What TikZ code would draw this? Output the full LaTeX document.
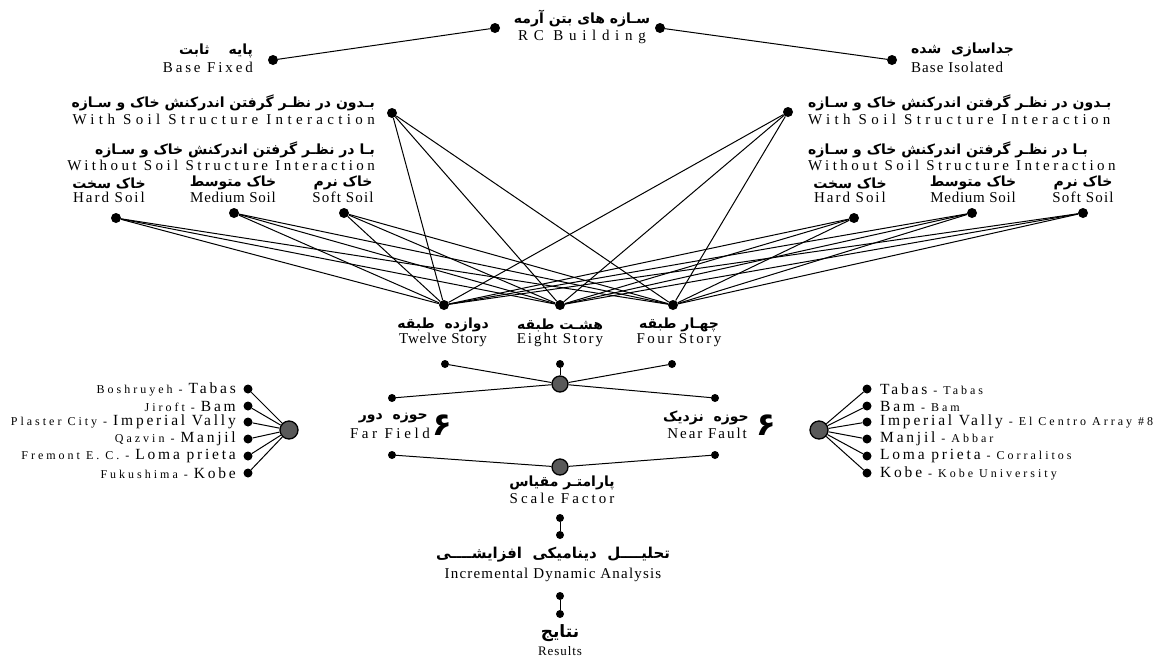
\documentclass[tikz,border=0pt]{standalone}
\usepackage{fontspec}
\setmainfont{Liberation Serif}
\newfontfamily\fafont[Script=Arabic]{DejaVu Sans}
\TeXXeTstate=1
\newcommand{\fa}[1]{{\fafont\bfseries\beginR #1\endR}}
\newcommand{\spaced}[2]{{\addfontfeature{LetterSpace=#1}#2}}
\newcommand{\eqk}[3]{{\fontsize{12}{12}\selectfont\spaced{25}{#1}}\spaced{18}{#2}{\fontsize{12}{12}\selectfont\spaced{25}{#3}}}
\tikzset{
  dot/.style={circle,fill=black,inner sep=0pt,minimum size=10pt},
  smalldot/.style={dot,minimum size=8pt},
  hub/.style={circle,draw=black,line width=1.3pt,fill=black!65,inner sep=0pt,minimum size=16pt},
  link/.style={line width=1pt},
  entext/.style={inner sep=0pt,font=\fontsize{15}{16}\selectfont},
  fatext/.style={inner sep=0pt,font=\fontsize{14}{15}\selectfont},
  eqtext/.style={inner sep=0pt,font=\fontsize{15.5}{16}\selectfont},
  sixtext/.style={inner sep=0pt,font=\fontsize{32}{34}\selectfont},
}
\begin{document}
\begin{tikzpicture}[x=1pt,y=-1pt]
\useasboundingbox (0,0) rectangle (1165,657);
\node[dot] (rcL) at (495,28) {};
\node[dot] (rcR) at (660,28) {};
\node[fatext] (rcfa) at (582,19) {\fa{سـازه های بتن آرمه}};
\node[entext] (rcen) at (582,37) {\spaced{38}{RC Building}};
\node[dot] (fix) at (273,60) {};
\node[dot] (iso) at (892,60) {};
\draw[link] (rcL) -- (fix);
\draw[link] (rcR) -- (iso);
\node[fatext,anchor=east] (fixfa) at (253,51) {\fa{پایه \quad ثابت}};
\node[entext,anchor=east] (fixen) at (253,67) {\spaced{19}{Base Fixed}};
\node[fatext,anchor=west] (isofa) at (911,50) {\fa{جداسازی \ شده}};
\node[entext,anchor=west] (isoen) at (911,67) {\spaced{7}{Base Isolated}};

\node[dot] (wL) at (392,113) {};
\node[dot] (wR) at (788,112) {};
\node[fatext,anchor=east] (wLfa) at (375,103) {\fa{بـدون در نظـر گرفتن اندرکنش خاک و سـازه}};
\node[entext,anchor=east] (wLen) at (375,119) {\spaced{29}{With Soil Structure Interaction}};
\node[fatext,anchor=east] (woLfa) at (375,150) {\fa{بـا در نظـر گرفتن اندرکنش خاک و سـازه}};
\node[entext,anchor=east] (woLen) at (375,165) {\spaced{23}{Without Soil Structure Interaction}};
\node[fatext,anchor=west] (wRfa) at (808,103) {\fa{بـدون در نظـر گرفتن اندرکنش خاک و سـازه}};
\node[entext,anchor=west] (wRen) at (808,119) {\spaced{29}{With Soil Structure Interaction}};
\node[fatext,anchor=west] (woRfa) at (808,150) {\fa{بـا در نظـر گرفتن اندرکنش خاک و سـازه}};
\node[entext,anchor=west] (woRen) at (808,165) {\spaced{23}{Without Soil Structure Interaction}};

\node[dot] (hL) at (116,218) {};
\node[dot] (mL) at (234,213) {};
\node[dot] (sL) at (344,213) {};
\node[dot] (hR) at (854,218) {};
\node[dot] (mR) at (972,213) {};
\node[dot] (sR) at (1083,213) {};
\node[fatext] (hLfa) at (109,183) {\fa{خاک سخت}};
\node[entext] (hLen) at (109,197) {\spaced{13}{Hard Soil}};
\node[fatext] (mLfa) at (233,183) {\fa{خاک متوسط}};
\node[entext] (mLen) at (233,197) {\spaced{5}{Medium Soil}};
\node[fatext] (sLfa) at (343,183) {\fa{خاک نرم}};
\node[entext] (sLen) at (343,197) {\spaced{8}{Soft Soil}};
\node[fatext] (hRfa) at (850,183) {\fa{خاک سخت}};
\node[entext] (hRen) at (850,197) {\spaced{13}{Hard Soil}};
\node[fatext] (mRfa) at (973,183) {\fa{خاک متوسط}};
\node[entext] (mRen) at (973,197) {\spaced{5}{Medium Soil}};
\node[fatext] (sRfa) at (1083,183) {\fa{خاک نرم}};
\node[entext] (sRen) at (1083,197) {\spaced{8}{Soft Soil}};

\node[dot] (t12) at (444,305) {};
\node[dot] (t8) at (560,305) {};
\node[dot] (t4) at (673,305) {};
\node[fatext] (t12fa) at (443,325) {\fa{دوازده \ طبقه}};
\node[entext] (t12en) at (443,340) {\spaced{5}{Twelve Story}};
\node[fatext] (t8fa) at (560,325) {\fa{هشـت طبقه}};
\node[entext] (t8en) at (560,340) {\spaced{13}{Eight Story}};
\node[fatext] (t4fa) at (679,325) {\fa{چهـار طبقه}};
\node[entext] (t4en) at (679,340) {\spaced{17}{Four Story}};

\draw[link] (wL) -- (t12);
\draw[link] (wL) -- (t8);
\draw[link] (wL) -- (t4);
\draw[link] (wR) -- (t12);
\draw[link] (wR) -- (t8);
\draw[link] (wR) -- (t4);
\draw[link] (hL) -- (t12);
\draw[link] (hL) -- (t8);
\draw[link] (hL) -- (t4);
\draw[link] (mL) -- (t12);
\draw[link] (mL) -- (t8);
\draw[link] (mL) -- (t4);
\draw[link] (sL) -- (t12);
\draw[link] (sL) -- (t8);
\draw[link] (sL) -- (t4);
\draw[link] (hR) -- (t12);
\draw[link] (hR) -- (t8);
\draw[link] (hR) -- (t4);
\draw[link] (mR) -- (t12);
\draw[link] (mR) -- (t8);
\draw[link] (mR) -- (t4);
\draw[link] (sR) -- (t12);
\draw[link] (sR) -- (t8);
\draw[link] (sR) -- (t4);

\node[smalldot] (b12) at (445,364) {};
\node[smalldot] (b8) at (560,364) {};
\node[smalldot] (b4) at (672,364) {};
\node[hub] (mid) at (560,384) {};
\node[smalldot] (farU) at (392,398) {};
\node[smalldot] (nearU) at (715,398) {};
\draw[link] (b12) -- (mid);
\draw[link] (b8) -- (mid);
\draw[link] (b4) -- (mid);
\draw[link] (farU) -- (mid);
\draw[link] (nearU) -- (mid);

\node[fatext,anchor=east] (farfa) at (428,418) {\fa{حوزه \ دور}};
\node[entext,anchor=east] (faren) at (430,433) {\spaced{24}{Far Field}};
\node[sixtext] (farsix) at (442,425) {\fa{۶}};
\node[fatext,anchor=east] (nearfa) at (749,418) {\fa{حوزه \ نزدیک}};
\node[entext,anchor=east] (nearen) at (747,433) {\spaced{13}{Near Fault}};
\node[sixtext] (nearsix) at (766,425) {\fa{۶}};

\node[smalldot] (farD) at (392,455) {};
\node[smalldot] (nearD) at (715,455) {};
\node[hub] (scale) at (560,467) {};
\draw[link] (farD) -- (scale);
\draw[link] (nearD) -- (scale);
\node[fatext] (scalefa) at (562,483) {\fa{پارامتـر مقیاس}};
\node[entext] (scaleen) at (562,498) {\spaced{20}{Scale Factor}};

\node[smalldot] (idaU) at (560,518) {};
\node[smalldot] (idaD) at (560,535) {};
\draw[link] (idaU) -- (idaD);
\node[fatext,font=\fontsize{15}{16}\selectfont] (idafa) at (553,555) {\fa{تحلیــــل \ دینامیکی \ افزایشــــی}};
\node[entext] (idaen) at (553,575) {\spaced{8}{Incremental Dynamic Analysis}};
\node[smalldot] (resU) at (560,596) {};
\node[smalldot] (resD) at (560,614) {};
\draw[link] (resU) -- (resD);
\node[fatext,font=\fontsize{17}{18}\selectfont] (resfa) at (560,633) {\fa{نتایج}};
\node[entext,font=\fontsize{13}{14}\selectfont] (resen) at (560,651) {\spaced{7}{Results}};

\node[hub,minimum size=18pt] (farhub) at (289,430) {};
\node[dot,minimum size=9pt] (far1) at (248,389) {};
\node[dot,minimum size=9pt] (far2) at (248,406) {};
\node[dot,minimum size=9pt] (far3) at (248,422) {};
\node[dot,minimum size=9pt] (far4) at (248,439) {};
\node[dot,minimum size=9pt] (far5) at (248,456) {};
\node[dot,minimum size=9pt] (far6) at (248,473) {};
\draw[link] (farhub) -- (far1);
\draw[link] (farhub) -- (far2);
\draw[link] (farhub) -- (far3);
\draw[link] (farhub) -- (far4);
\draw[link] (farhub) -- (far5);
\draw[link] (farhub) -- (far6);
\node[eqtext,anchor=east] (far1t) at (236,389) {\eqk{Boshruyeh -\ }{Tabas}{}};
\node[eqtext,anchor=east] (far2t) at (236,406) {\eqk{Jiroft -\ }{Bam}{}};
\node[eqtext,anchor=east] (far3t) at (236,422) {\eqk{Plaster City -\ }{Imperial Vally}{}};
\node[eqtext,anchor=east] (far4t) at (236,439) {\eqk{Qazvin -\ }{Manjil}{}};
\node[eqtext,anchor=east] (far5t) at (236,456) {\eqk{Fremont E. C. -\ }{Loma prieta}{}};
\node[eqtext,anchor=east] (far6t) at (236,473) {\eqk{Fukushima -\ }{Kobe}{}};

\node[hub,minimum size=18pt] (nearhub) at (819,430) {};
\node[dot,minimum size=9pt] (near1) at (867,389) {};
\node[dot,minimum size=9pt] (near2) at (867,406) {};
\node[dot,minimum size=9pt] (near3) at (867,422) {};
\node[dot,minimum size=9pt] (near4) at (867,439) {};
\node[dot,minimum size=9pt] (near5) at (867,456) {};
\node[dot,minimum size=9pt] (near6) at (867,473) {};
\draw[link] (nearhub) -- (near1);
\draw[link] (nearhub) -- (near2);
\draw[link] (nearhub) -- (near3);
\draw[link] (nearhub) -- (near4);
\draw[link] (nearhub) -- (near5);
\draw[link] (nearhub) -- (near6);
\node[eqtext,anchor=west] (near1t) at (880,389) {\eqk{}{Tabas}{\ - Tabas}};
\node[eqtext,anchor=west] (near2t) at (880,406) {\eqk{}{Bam}{\ - Bam}};
\node[eqtext,anchor=west] (near3t) at (880,422) {\eqk{}{Imperial Vally}{\ - El Centro Array \#8}};
\node[eqtext,anchor=west] (near4t) at (880,439) {\eqk{}{Manjil}{\ - Abbar}};
\node[eqtext,anchor=west] (near5t) at (880,456) {\eqk{}{Loma prieta}{\ - Corralitos}};
\node[eqtext,anchor=west] (near6t) at (880,473) {\eqk{}{Kobe}{\ - Kobe University}};
\end{tikzpicture}
\end{document}
